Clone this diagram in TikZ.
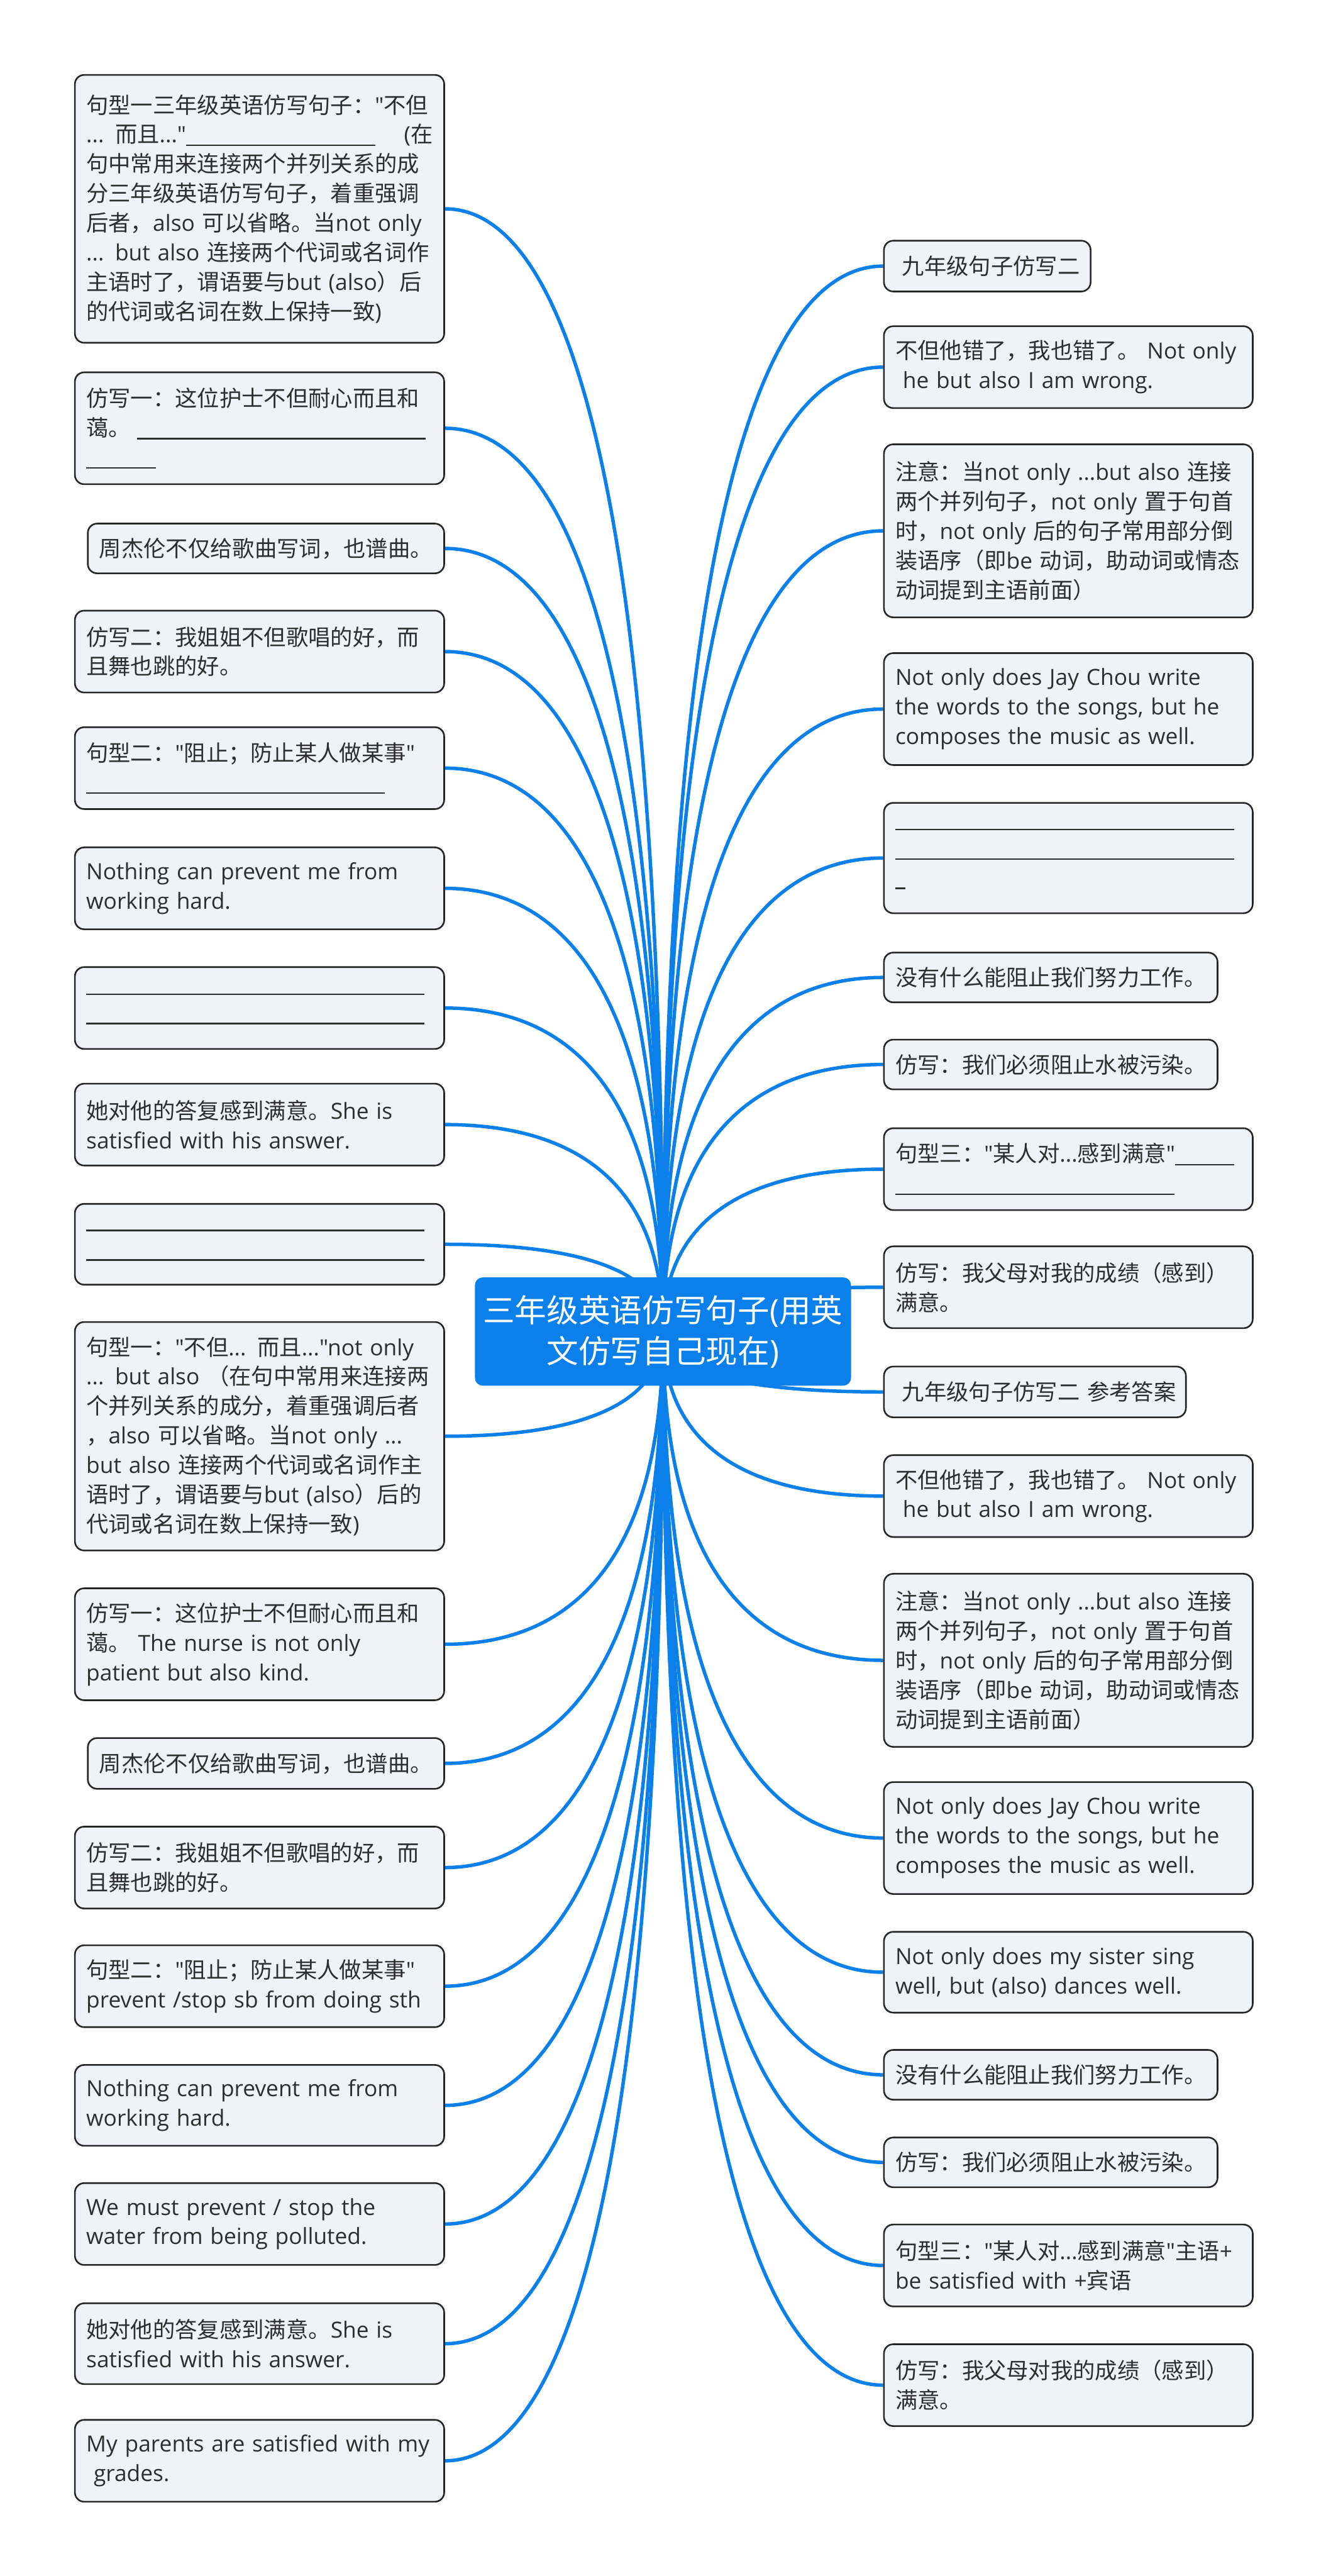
\documentclass[tikz,border=0pt]{standalone}
\usepackage{fontspec}
\usetikzlibrary{calc,backgrounds}
\setmainfont{Open Sans}
\newfontfamily\latinfont{Open Sans}
\newfontfamily\cjkfont{Noto Sans CJK SC}

% switch to the CJK font for Chinese characters
\XeTeXinterchartokenstate=1
\newXeTeXintercharclass\CJKclass
\newcount\cjkc
\def\setcjkrange#1#2{\cjkc=#1 \loop\XeTeXcharclass\cjkc=\CJKclass \ifnum\cjkc<#2 \advance\cjkc by 1 \repeat}
\setcjkrange{"3000}{"303F}
\setcjkrange{"4E00}{"9FFF}
\setcjkrange{"FF00}{"FFEF}
\XeTeXinterchartoks 0 \CJKclass = {\cjkfont}
\XeTeXinterchartoks 4095 \CJKclass = {\cjkfont}
\XeTeXinterchartoks \CJKclass 0 = {\latinfont}
\XeTeXinterchartoks \CJKclass 4095 = {\latinfont}

\definecolor{branchblue}{HTML}{0B7FEA}
\definecolor{leafgray}{HTML}{EFF2F6}
\definecolor{leaftext}{HTML}{2E2E2E}
\newcommand{\blank}[1]{\rule[-0.15em]{#1}{0.07em}}

\tikzset{
  leaf/.style={draw=black!85, line width=0.9pt, fill=leafgray, rounded corners=0.18cm,
    anchor=north west, align=left, inner xsep=0.22cm, inner ysep=0pt, text=leaftext,
    font=\fontsize{12.2}{16.2}\selectfont},
  lbox/.style={leaf, minimum width=7.13cm, text width=6.69cm},
  rbox/.style={leaf, minimum width=7.12cm, text width=6.68cm},
  root/.style={fill=branchblue, rounded corners=0.15cm, text=white, align=center,
    minimum width=7.26cm, minimum height=2.09cm, font=\fontsize{17.5}{22.5}\selectfont},
  branch/.style={draw=branchblue, line width=1.9pt},
}

\begin{document}
\begin{tikzpicture}
\useasboundingbox (0,0) rectangle (25.6,-49.72);

% Root
\node[root] (root) at (12.80,-25.70) {三年级英语仿写句子(用英\\文仿写自己现在)};

% Left column
\node[lbox, minimum height=5.17cm] (L1) at (1.43,-1.43) {句型一三年级英语仿写句子："不但\\... 而且..."\blank{3.65cm}\hfill(在\\句中常用来连接两个并列关系的成\\分三年级英语仿写句子，着重强调\\后者，also 可以省略。当not only\\... but also 连接两个代词或名词作\\主语时了，谓语要与but (also）后\\的代词或名词在数上保持一致)};
\node[lbox, minimum height=2.16cm] (L2) at (1.43,-7.17) {仿写一：这位护士不但耐心而且和\\蔼。\hspace{0.12cm}\blank{5.57cm}\\\blank{1.34cm}};
\node[lbox, minimum width=6.88cm, text width=6.44cm, minimum height=0.96cm] (L3) at (1.68,-10.09) {周杰伦不仅给歌曲写词，也谱曲。};
\node[lbox, minimum height=1.58cm] (L4) at (1.43,-11.77) {仿写二：我姐姐不但歌唱的好，而\\且舞也跳的好。};
\node[lbox, minimum height=1.58cm] (L5) at (1.43,-14.02) {句型二："阻止；防止某人做某事"\\\blank{5.76cm}};
\node[lbox, minimum height=1.58cm] (L6) at (1.43,-16.34) {Nothing can prevent me from\\working hard.};
\node[lbox, minimum height=1.58cm] (L7) at (1.43,-18.65) {\blank{6.53cm}\\\blank{6.53cm}};
\node[lbox, minimum height=1.58cm] (L8) at (1.43,-20.90) {她对他的答复感到满意。She is\\satisfied with his answer.};
\node[lbox, minimum height=1.56cm] (L9) at (1.43,-23.22) {\blank{6.53cm}\\\blank{6.53cm}};
\node[lbox, minimum height=4.41cm] (L10) at (1.43,-25.50) {句型一："不但... 而且..."not only\\... but also （在句中常用来连接两\\个并列关系的成分，着重强调后者\\，also 可以省略。当not only ...\\but also 连接两个代词或名词作主\\语时了，谓语要与but (also）后的\\代词或名词在数上保持一致)};
\node[lbox, minimum height=2.16cm] (L11) at (1.43,-30.64) {仿写一：这位护士不但耐心而且和\\蔼。 The nurse is not only\\patient but also kind.};
\node[lbox, minimum width=6.88cm, text width=6.44cm, minimum height=0.98cm] (L12) at (1.68,-33.53) {周杰伦不仅给歌曲写词，也谱曲。};
\node[lbox, minimum height=1.58cm] (L13) at (1.43,-35.24) {仿写二：我姐姐不但歌唱的好，而\\且舞也跳的好。};
\node[lbox, minimum height=1.58cm] (L14) at (1.43,-37.53) {句型二："阻止；防止某人做某事"\\prevent /stop sb from doing sth};
\node[lbox, minimum height=1.56cm] (L15) at (1.43,-39.84) {Nothing can prevent me from\\working hard.};
\node[lbox, minimum height=1.58cm] (L16) at (1.43,-42.12) {We must prevent / stop the\\water from being polluted.};
\node[lbox, minimum height=1.56cm] (L17) at (1.43,-44.44) {她对他的答复感到满意。She is\\satisfied with his answer.};
\node[lbox, minimum height=1.58cm] (L18) at (1.43,-46.69) {My parents are satisfied with my\\\ grades.};

% Right column
\node[rbox, minimum width=3.99cm, text width=3.75cm, inner xsep=0.12cm, minimum height=0.98cm] (R1) at (17.05,-4.63) {\hspace{0.23cm}九年级句子仿写二};
\node[rbox, minimum height=1.58cm] (R2) at (17.05,-6.28) {不但他错了，我也错了。 Not only\\\ he but also I am wrong.};
\node[rbox, minimum height=3.34cm] (R3) at (17.05,-8.56) {注意：当not only ...but also 连接\\两个并列句子，not only 置于句首\\时，not only 后的句子常用部分倒\\装语序（即be 动词，助动词或情态\\动词提到主语前面）};
\node[rbox, minimum height=2.16cm] (R4) at (17.05,-12.59) {Not only does Jay Chou write\\the words to the songs, but he\\composes the music as well.};
\node[rbox, minimum height=2.13cm] (R5) at (17.05,-15.48) {\blank{6.54cm}\\\blank{6.54cm}\\\blank{0.19cm}};
\node[rbox, minimum width=6.44cm, text width=6.0cm, minimum height=0.96cm] (R6) at (17.05,-18.37) {没有什么能阻止我们努力工作。};
\node[rbox, minimum width=6.44cm, text width=6.0cm, minimum height=0.96cm] (R7) at (17.05,-20.05) {仿写：我们必须阻止水被污染。};
\node[rbox, minimum height=1.58cm] (R8) at (17.05,-21.76) {句型三："某人对...感到满意"\blank{1.14cm}\\\blank{5.39cm}};
\node[rbox, minimum height=1.58cm] (R9) at (17.05,-24.04) {仿写：我父母对我的成绩（感到）\\满意。};
\node[rbox, minimum width=5.83cm, text width=5.63cm, inner xsep=0.1cm, minimum height=0.98cm] (R10) at (17.05,-26.36) {\hspace{0.25cm}九年级句子仿写二 参考答案};
\node[rbox, minimum height=1.58cm] (R11) at (17.05,-28.07) {不但他错了，我也错了。 Not only\\\ he but also I am wrong.};
\node[rbox, minimum height=3.34cm] (R12) at (17.05,-30.36) {注意：当not only ...but also 连接\\两个并列句子，not only 置于句首\\时，not only 后的句子常用部分倒\\装语序（即be 动词，助动词或情态\\动词提到主语前面）};
\node[rbox, minimum height=2.16cm] (R13) at (17.05,-34.38) {Not only does Jay Chou write\\the words to the songs, but he\\composes the music as well.};
\node[rbox, minimum height=1.56cm] (R14) at (17.05,-37.27) {Not only does my sister sing\\well, but (also) dances well.};
\node[rbox, minimum width=6.44cm, text width=6.0cm, minimum height=0.96cm] (R15) at (17.05,-39.55) {没有什么能阻止我们努力工作。};
\node[rbox, minimum width=6.44cm, text width=6.0cm, minimum height=0.96cm] (R16) at (17.05,-41.24) {仿写：我们必须阻止水被污染。};
\node[rbox, minimum height=1.58cm] (R17) at (17.05,-42.92) {句型三："某人对...感到满意"主语+\\be satisfied with +宾语};
\node[rbox, minimum height=1.58cm] (R18) at (17.05,-45.23) {仿写：我父母对我的成绩（感到）\\满意。};

% Branches
\begin{scope}[on background layer]
\foreach \i in {1,...,18} {
  \draw[branch] (root.center) .. controls ($(root.center)!0.8!(root.center |- L\i.east)$) and ($(root.center |- L\i.east)!0.5!(L\i.east)$) .. (L\i.east);
  \draw[branch] (root.center) .. controls ($(root.center)!0.8!(root.center |- R\i.west)$) and ($(root.center |- R\i.west)!0.5!(R\i.west)$) .. (R\i.west);
}
\end{scope}

\end{tikzpicture}
\end{document}
